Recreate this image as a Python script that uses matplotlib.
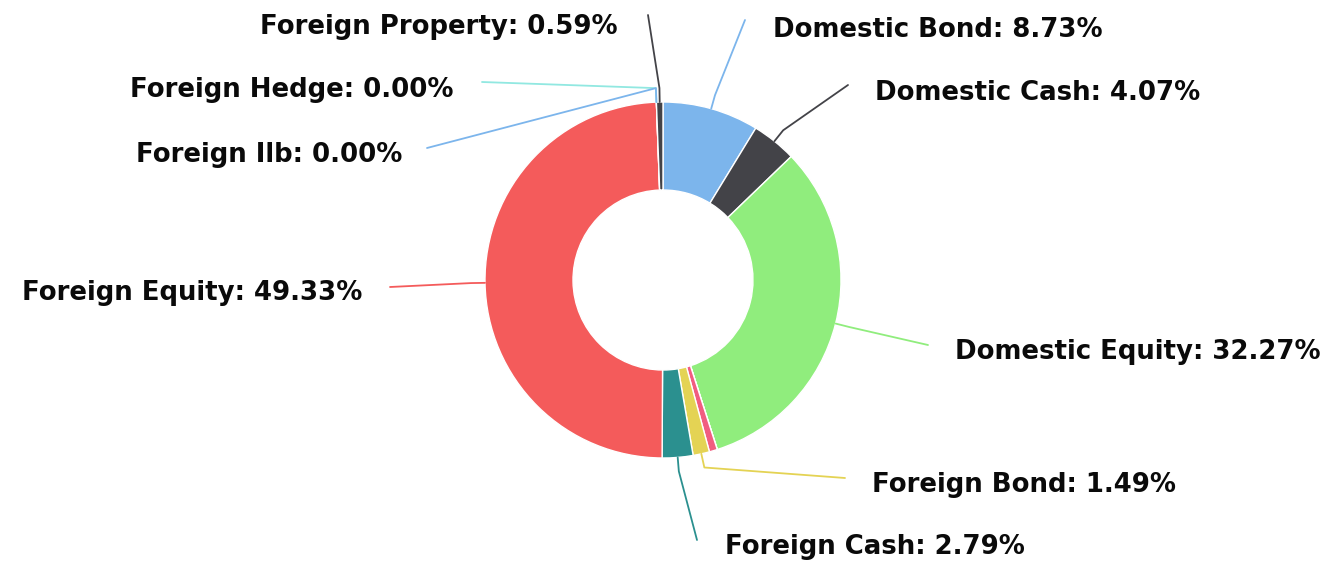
import numpy as np
import matplotlib.pyplot as plt

# slices, clockwise from 12 o'clock (Highcharts default colour order)
names = ['Domestic Bond', 'Domestic Cash', 'Domestic Equity', None, None, None,
         'Foreign Bond', 'Foreign Cash', 'Foreign Equity', 'Foreign Hedge',
         'Foreign Ilb', 'Foreign Property']
values = [8.73, 4.07, 32.27, 0.0, 0.0, 0.73, 1.49, 2.79, 49.33, 0.0, 0.0, 0.59]
colors = ['#7cb5ec', '#434348', '#90ed7d', '#f7a35c', '#8085e9', '#f15c80',
          '#e4d354', '#2b908f', '#f45b5b', '#91e8e1', '#7cb5ec', '#434348']

# label layout in pixel space: text x, text y, alignment, connector end
label_pos = {
    'Domestic Bond': (773, 30, 'left', (745, 20)),
    'Domestic Cash': (875, 93, 'left', (848, 85)),
    'Domestic Equity': (955, 352, 'left', (928, 345)),
    'Foreign Bond': (872, 485, 'left', (845, 478)),
    'Foreign Cash': (725, 547, 'left', (697, 540)),
    'Foreign Equity': (362, 293, 'right', (390, 287)),
    'Foreign Hedge': (453, 90, 'right', (482, 82)),
    'Foreign Ilb': (402, 155, 'right', (427, 148)),
    'Foreign Property': (618, 27, 'right', (648, 15)),
}

W, H = 1325, 561
cx, cy, R, r_in = 663, 280, 178, 90

fig = plt.figure(figsize=(W / 100, H / 100), dpi=100)
ax = fig.add_axes([0, 0, 1, 1])

# y axis is inverted below, so counterclock=True draws visually clockwise
ax.pie(values, colors=colors, startangle=-90, counterclock=True,
       center=(cx, cy), radius=R,
       wedgeprops=dict(width=R - r_in, edgecolor='white', linewidth=1))

ax.set_xlim(0, W)
ax.set_ylim(H, 0)
ax.set_aspect('equal')
ax.axis('off')

total = sum(values)
cum = 0.0
for name, v, c in zip(names, values, colors):
    mid = -90 + 360 * (cum + v / 2) / total
    cum += v
    if name is None:
        continue
    tx, ty, ha, (ex, ey) = label_pos[name]
    th = np.deg2rad(mid)
    x0, y0 = cx + R * np.cos(th), cy + R * np.sin(th)
    x1, y1 = cx + (R + 14) * np.cos(th), cy + (R + 14) * np.sin(th)
    ax.plot([x0, x1, ex], [y0, y1, ey], color=c, lw=1.3,
            solid_capstyle='round')
    ax.text(tx, ty, f'{name}: {v:.2f}%', ha=ha, va='center',
            fontsize=18.7, fontweight='bold', color='#0a0a0a',
            family='DejaVu Sans')

fig.savefig('out.png', dpi=100)
